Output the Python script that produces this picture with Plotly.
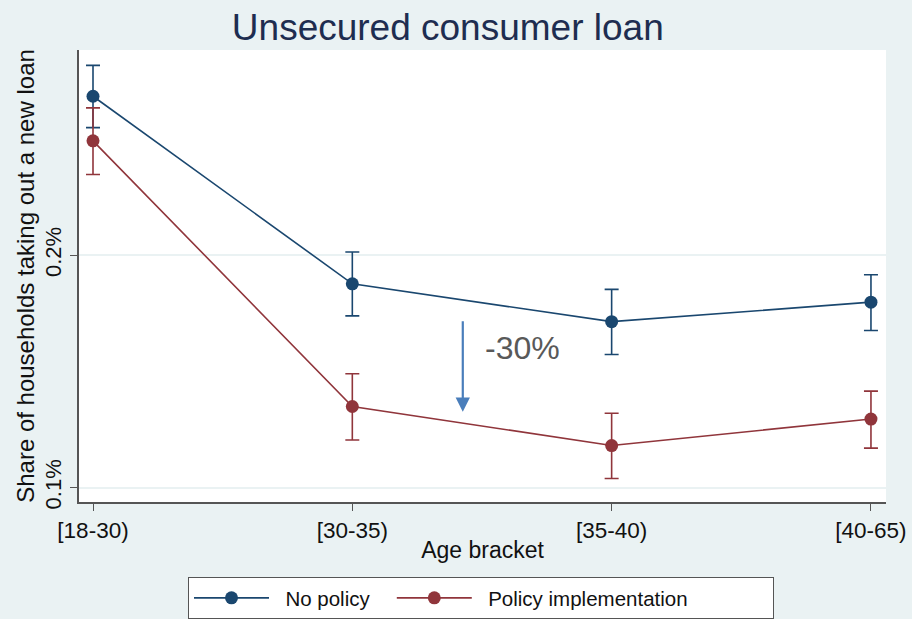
import plotly.graph_objects as go

categories = ["[18-30)", "[30-35)", "[35-40)", "[40-65)"]
no_policy = [0.2684, 0.1877, 0.1714, 0.1798]
no_policy_hi = [0.2817, 0.2014, 0.1853, 0.1916]
no_policy_lo = [0.2549, 0.1739, 0.1573, 0.1676]
policy = [0.2492, 0.1349, 0.1181, 0.1295]
policy_hi = [0.2634, 0.1490, 0.1320, 0.1415]
policy_lo = [0.2347, 0.1205, 0.1039, 0.1170]
y_ticks = [0.1, 0.2]
y_ticktext = ["0.1%", "0.2%"]

BLUE = "#1A476F"
RED = "#90353B"
BG = "#EAF2F3"
FONT = "Arial, Liberation Sans, sans-serif"
NBSP = "\u00a0"

xs = list(range(len(categories)))

def trace(name, vals, hi, lo, color):
    return go.Scatter(
        x=xs, y=vals, name=name, mode="lines+markers",
        line=dict(color=color, width=1.6),
        marker=dict(color=color, size=13),
        error_y=dict(type="data", symmetric=False,
                     array=[h - v for h, v in zip(hi, vals)],
                     arrayminus=[v - l for v, l in zip(vals, lo)],
                     color=color, thickness=1.6, width=7),
    )

fig = go.Figure()
fig.add_trace(trace(NBSP * 2 + "No policy" + NBSP * 3, no_policy, no_policy_hi, no_policy_lo, BLUE))
fig.add_trace(trace(NBSP * 2 + "Policy implementation" + NBSP * 14, policy, policy_hi, policy_lo, RED))

fig.add_annotation(x=1.426, y=0.1326, ax=1.426, ay=0.1722, axref="x", ayref="y",
                   xref="x", yref="y", showarrow=True, arrowhead=2, arrowsize=1.3,
                   arrowwidth=2.2, arrowcolor="#4A7EBB", text="")
fig.add_annotation(x=1.505, y=0.1602, xref="x", yref="y", text="-30%",
                   showarrow=False, xanchor="left", yanchor="middle",
                   font=dict(size=32, color="#595959", family=FONT))

fig.update_layout(
    width=912, height=619,
    paper_bgcolor=BG, plot_bgcolor="white",
    margin=dict(l=79, r=26, t=50, b=117, autoexpand=False),
    font=dict(family=FONT, color="#111111"),
    title=dict(text="Unsecured consumer loan", x=0.491, xanchor="center",
               y=1 - 27 / 619, yanchor="middle",
               font=dict(size=37, color="#1E2D50", family=FONT)),
    showlegend=True,
    legend=dict(orientation="h", x=188 / 912, xanchor="left", xref="container",
                y=1 - 577 / 619, yanchor="top", yref="container",
                bgcolor="white", bordercolor="#555555", borderwidth=1,
                itemwidth=75,
                font=dict(size=20.5, color="#111111", family=FONT)),
    xaxis=dict(tickvals=xs, ticktext=categories, range=[-0.054, 3.058],
               showgrid=False, zeroline=False, showline=True, linecolor="#555555",
               linewidth=1.5, ticks="outside", ticklen=7, tickcolor="#555555",
               automargin=False,
               tickfont=dict(size=22.5, family=FONT), title=dict(text="Age bracket",
               font=dict(size=23, family=FONT), standoff=0)),
    yaxis=dict(tickvals=y_ticks, ticktext=y_ticktext, range=[0.0938, 0.2883],
               showgrid=True, gridcolor=BG, gridwidth=1.5, zeroline=False,
               showline=True, linecolor="#555555", linewidth=1.5, ticks="outside",
               ticklen=7, tickcolor="#555555", tickangle=-90, automargin=False,
               tickfont=dict(size=22, family=FONT),
               title=dict(text="Share of households taking out a new loan",
                          font=dict(size=24, family=FONT), standoff=0)),
)

fig.write_html("out.html")
